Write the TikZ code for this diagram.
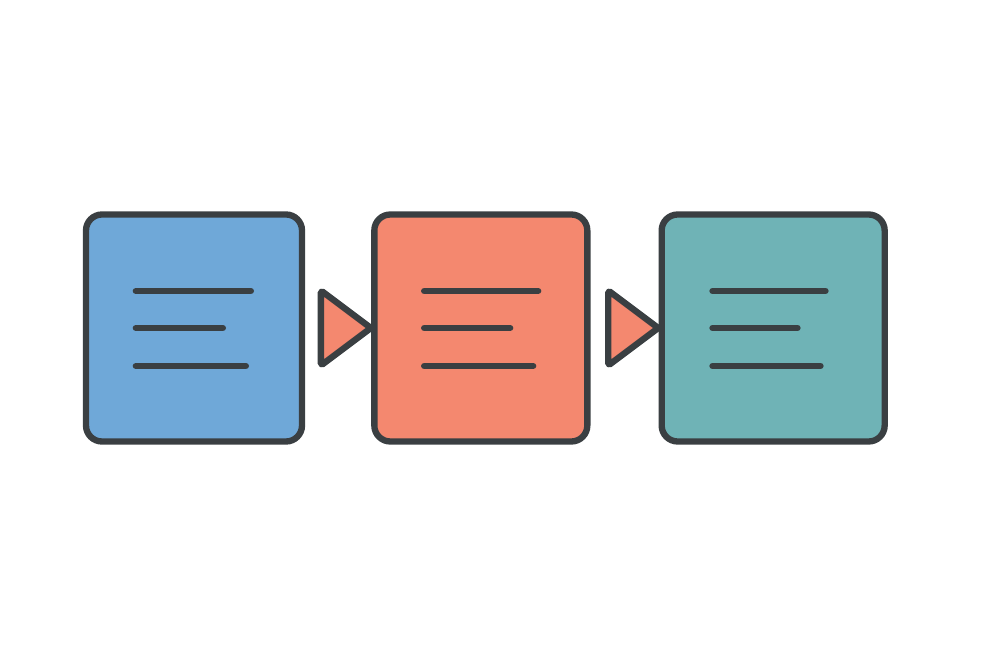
\documentclass[tikz,border=0pt]{standalone}
\usetikzlibrary{positioning, shapes.geometric}

\definecolor{outline}{HTML}{3A3F42}
\definecolor{cardblue}{HTML}{6FA8D8}
\definecolor{cardred}{HTML}{F4886F}
\definecolor{cardteal}{HTML}{6FB3B6}

\begin{document}
\begin{tikzpicture}[
        every node/.style={draw=outline, line width=1.8pt, inner sep=0},
        card/.style={rounded corners=0.16cm, minimum height=2.27cm},
        tri/.style={isosceles triangle, isosceles triangle stretches, fill=cardred,
            rounded corners=0.5pt, line join=round, minimum width=0.75cm, minimum height=0.50cm},
        textline/.style={outline, line width=1.8pt, line cap=round}
    ]
    \useasboundingbox (0,0) rectangle (10,6.67);

    % Cards
    \node[card, fill=cardblue, minimum width=2.16cm] (card1) at (1.94,3.39) {};
    \node[card, fill=cardred, minimum width=2.13cm, right=0.66cm of card1] (card2) {};
    \node[card, fill=cardteal, minimum width=2.23cm, right=0.68cm of card2] (card3) {};

    % Triangles between cards
    \node[tri, left=-0.08cm of card2] (tri1) {};
    \node[tri, left=-0.08cm of card3] (tri2) {};

    % Text lines
    \draw[textline] ([xshift=0.53cm, yshift=0.37cm]card1.west) -- ++(1.15,0);
    \draw[textline] ([xshift=0.53cm]card1.west) -- ++(0.87,0);
    \draw[textline] ([xshift=0.53cm, yshift=-0.38cm]card1.west) -- ++(1.10,0);

    \draw[textline] ([xshift=0.53cm, yshift=0.37cm]card2.west) -- ++(1.14,0);
    \draw[textline] ([xshift=0.53cm]card2.west) -- ++(0.86,0);
    \draw[textline] ([xshift=0.53cm, yshift=-0.38cm]card2.west) -- ++(1.09,0);

    \draw[textline] ([xshift=0.54cm, yshift=0.37cm]card3.west) -- ++(1.13,0);
    \draw[textline] ([xshift=0.54cm]card3.west) -- ++(0.85,0);
    \draw[textline] ([xshift=0.54cm, yshift=-0.38cm]card3.west) -- ++(1.08,0);

\end{tikzpicture}
\end{document}
